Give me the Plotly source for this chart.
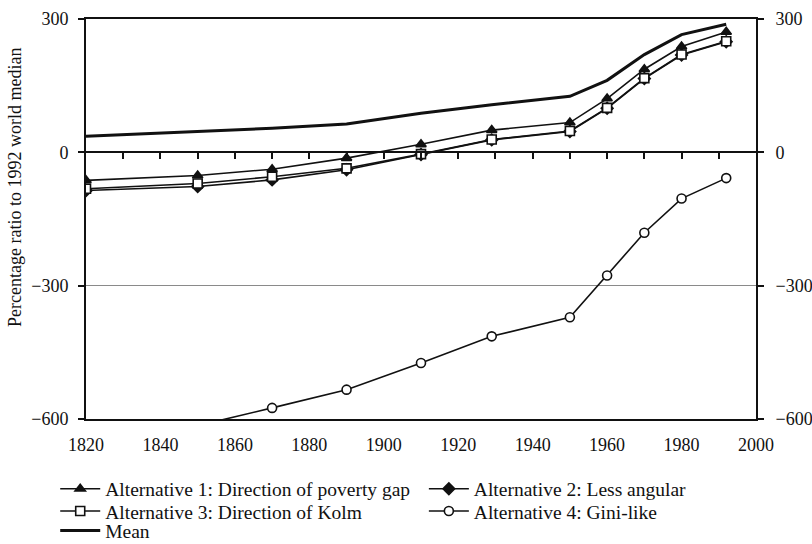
import plotly.graph_objects as go

years = [1820, 1850, 1870, 1890, 1910, 1929, 1950, 1960, 1970, 1980, 1992]

alt1_poverty_gap = [-63, -52, -38, -13, 18, 50, 67, 121, 187, 238, 271]
alt2_less_angular = [-86, -77, -62, -39, -5, 28, 47, 99, 166, 219, 249]
alt3_kolm = [-82, -70, -55, -36, -4, 29, 48, 100, 167, 220, 250]
alt4_gini_like = [-650, -615, -575, -534, -474, -414, -371, -277, -181, -104, -58]
mean_line = [36, 46, 54, 64, 88, 107, 126, 162, 220, 265, 288]

x_ticks = list(range(1820, 2001, 20))
zero_ticks = list(range(1830, 2000, 10))
y_ticks = [-600, -300, 0, 300]

FONT = "Liberation Serif"
BLACK = "#111111"
FS = 18
LEG_FS = 19.5

fig = go.Figure()

# one legend per entry so the two-column layout sits like the original
series = [
    ("Alternative 1: Direction of poverty gap", alt1_poverty_gap, "triangle-up", BLACK, "legend"),
    ("Alternative 2: Less angular", alt2_less_angular, "diamond", BLACK, "legend2"),
    ("Alternative 3: Direction of Kolm", alt3_kolm, "square", "white", "legend3"),
    ("Alternative 4: Gini-like", alt4_gini_like, "circle", "white", "legend4"),
]
for name, vals, sym, fill, leg in series:
    fig.add_trace(go.Scatter(
        x=years, y=vals, name=name, mode="lines+markers", legend=leg,
        line=dict(color=BLACK, width=1.6),
        marker=dict(symbol=sym, size=9, color=fill, line=dict(color=BLACK, width=1.6)),
    ))

fig.add_trace(go.Scatter(
    x=years, y=mean_line, name="Mean", mode="lines", legend="legend5",
    line=dict(color=BLACK, width=3),
))

# invisible trace on the zero-line x axis and the right y axis so both get drawn
fig.add_trace(go.Scatter(
    x=[1820, 2000], y=[0, 0], xaxis="x2", yaxis="y2", mode="lines",
    line=dict(width=0), showlegend=False, hoverinfo="skip",
))


def leg(x, y):
    return dict(
        orientation="v", xref="container", yref="container",
        x=x, y=y, xanchor="left", yanchor="middle",
        itemwidth=40, bgcolor="rgba(0,0,0,0)", borderwidth=0,
        font=dict(family=FONT, size=LEG_FS, color=BLACK),
    )


axis_common = dict(
    showline=True, linecolor=BLACK, linewidth=2, zeroline=False, automargin=False,
)

fig.update_layout(
    template="none",
    width=812, height=544,
    margin=dict(l=86, r=56, t=19, b=125, autoexpand=False),
    paper_bgcolor="white", plot_bgcolor="white",
    font=dict(family=FONT, size=FS, color=BLACK),
    showlegend=True,
    legend=leg(0.068, 0.101),
    legend2=leg(0.522, 0.101),
    legend3=leg(0.068, 0.060),
    legend4=leg(0.522, 0.060),
    legend5=leg(0.068, 0.024),
    xaxis=dict(
        range=[1820, 2000], tickvals=x_ticks, showgrid=False, mirror=True,
        ticks="", tickfont=dict(family=FONT, size=FS, color=BLACK), ticklabelstandoff=8,
        **axis_common,
    ),
    # second x axis placed on the zero line, ticks every 10 years
    xaxis2=dict(
        overlaying="x", anchor="free", position=2 / 3, side="bottom", layer="above traces",
        range=[1820, 2000], tickvals=zero_ticks, showticklabels=False,
        ticks="outside", ticklen=6, tickwidth=1.5, tickcolor=BLACK, showgrid=False,
        **axis_common,
    ),
    yaxis=dict(
        range=[-600, 300], tickvals=y_ticks, showgrid=True, gridcolor="#8a8a8a", gridwidth=1,
        ticks="outside", ticklen=6, tickwidth=1.5, tickcolor=BLACK,
        tickfont=dict(family=FONT, size=FS, color=BLACK), ticklabelstandoff=6,
        **axis_common,
    ),
    yaxis2=dict(
        overlaying="y", side="right", anchor="x",
        range=[-600, 300], tickvals=y_ticks, showgrid=False,
        ticks="outside", ticklen=6, tickwidth=1.5, tickcolor=BLACK,
        tickfont=dict(family=FONT, size=FS, color=BLACK), ticklabelstandoff=8,
        **axis_common,
    ),
    annotations=[dict(
        text="Percentage ratio to 1992 world median", textangle=-90,
        xref="paper", yref="paper", x=-0.106, y=0.58, xanchor="center", yanchor="middle",
        showarrow=False, font=dict(family=FONT, size=FS, color=BLACK),
    )],
)

# the default page keeps the browser's 8px body margin; drop it
fig.write_html(
    "out.html",
    config={"displayModeBar": False},
    post_script="document.body.style.margin='0';",
)
